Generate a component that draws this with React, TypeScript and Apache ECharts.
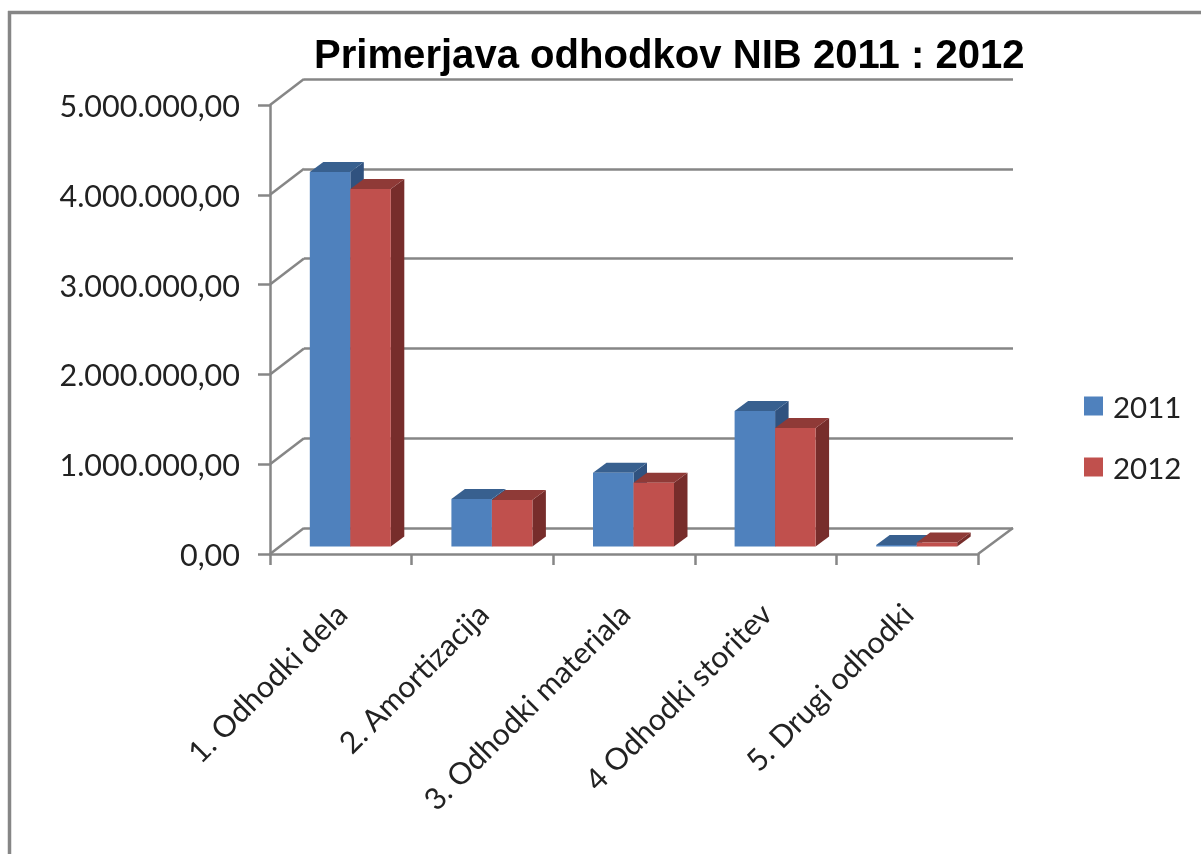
import React, { useEffect, useRef } from "react";
import * as echarts from "echarts";

const titleText = "Primerjava odhodkov NIB 2011 : 2012";
const categories = ["1. Odhodki dela", "2. Amortizacija", "3. Odhodki materiala", "4 Odhodki storitev", "5. Drugi odhodki"];
const values2011 = [4170000, 528000, 820000, 1510000, 16000];
const values2012 = [3980000, 517000, 710000, 1320000, 44000];
const yTicks = [0, 1000000, 2000000, 3000000, 4000000, 5000000];
const yTickLabels = ["0,00", "1.000.000,00", "2.000.000,00", "3.000.000,00", "4.000.000,00", "5.000.000,00"];

const GRAY = "#868686";
const FONT = "Lato";

const WALL_DX = 34;
const WALL_DY = -26;
const BAR_DX = 13.5;
const BAR_DY = -10;
const FLOOR_DX = 9.5;
const FLOOR_DY = -7.5;
const BAR_RATIO = 0.286;
const LINE_W = 2.5;

function bar3d(front: string, top: string, side: string, seriesOffset: number) {
  return (_p: any, api: any) => {
    const i = api.value(0);
    const v = api.value(1);
    const base = api.coord([i, 0]);
    const head = api.coord([i, v]);
    const w = api.size([1, 0])[0] * BAR_RATIO;
    const x0 = base[0] + FLOOR_DX + seriesOffset * w;
    const x1 = x0 + w;
    const yb = base[1] + FLOOR_DY;
    const yt = head[1] + FLOOR_DY;
    const poly = (points: number[][], fill: string) => ({
      type: "polygon",
      shape: { points },
      style: { fill, stroke: null },
    });
    return {
      type: "group",
      children: [
        poly([[x1, yt], [x1 + BAR_DX, yt + BAR_DY], [x1 + BAR_DX, yb + BAR_DY], [x1, yb]], side),
        poly([[x0, yt], [x0 + BAR_DX, yt + BAR_DY], [x1 + BAR_DX, yt + BAR_DY], [x1, yt]], top),
        poly([[x0, yt], [x1, yt], [x1, yb], [x0, yb]], front),
      ],
    };
  };
}

function wallDiagonal(_p: any, api: any) {
  const v = api.value(0);
  const half = api.size([1, 0])[0] / 2;
  const p = api.coord([0, v]);
  const x = p[0] - half;
  return {
    type: "line",
    shape: { x1: x, y1: p[1], x2: x + WALL_DX, y2: p[1] + WALL_DY },
    style: { stroke: GRAY, lineWidth: LINE_W },
  };
}

function floorEdge(_p: any, api: any) {
  const half = api.size([1, 0])[0] / 2;
  const p = api.coord([categories.length - 1, 0]);
  const x = p[0] + half;
  return {
    type: "line",
    shape: { x1: x, y1: p[1], x2: x + WALL_DX + 1, y2: p[1] + WALL_DY },
    style: { stroke: GRAY, lineWidth: LINE_W },
  };
}

export default function App() {
  const ref = useRef<HTMLDivElement>(null);
  useEffect(() => {
    document.body.style.margin = "0";
    const chart = echarts.init(ref.current!, undefined, { renderer: "svg" });
    chart.setOption({
      animation: false,
      backgroundColor: "#ffffff",
      title: {
        text: titleText,
        left: 309,
        top: 29,
        textStyle: { fontFamily: "Liberation Sans", fontWeight: "bold", fontSize: 40.1, color: "#000000" },
      },
      legend: {
        data: ["2011", "2012"],
        orient: "vertical",
        left: 1079,
        top: 386,
        icon: "rect",
        itemWidth: 19,
        itemHeight: 19,
        itemGap: 31,
        textStyle: { fontFamily: FONT, fontSize: 29.5, color: "#222222", padding: [0, 0, 0, 5] },
      },
      grid: [
        { left: 270, top: 105, width: 708, height: 449 },
        { left: 304, top: 79, width: 709, height: 449 },
      ],
      xAxis: [
        {
          type: "category",
          gridIndex: 0,
          data: categories,
          axisLine: { lineStyle: { color: GRAY, width: LINE_W } },
          axisTick: { show: true, length: 11, alignWithLabel: false, lineStyle: { color: GRAY, width: LINE_W } },
          axisLabel: {
            interval: 0,
            rotate: 45,
            margin: 54,
            fontFamily: FONT,
            fontSize: 30.3,
            color: "#222222",
            padding: [0, 0, 6, 0],
          },
        },
        { type: "category", gridIndex: 1, data: categories, show: false },
      ],
      yAxis: [
        {
          type: "value",
          gridIndex: 0,
          min: 0,
          max: 5000000,
          interval: 1000000,
          axisLine: { show: true, lineStyle: { color: GRAY, width: LINE_W } },
          axisTick: { show: true, length: 12, lineStyle: { color: GRAY, width: LINE_W } },
          splitLine: { show: false },
          axisLabel: {
            margin: 30,
            fontFamily: FONT,
            fontSize: 30.5,
            color: "#222222",
            padding: [9, 0, 0, 0],
            formatter: (_v: number, i: number) => yTickLabels[i],
          },
        },
        {
          type: "value",
          gridIndex: 1,
          min: 0,
          max: 5000000,
          interval: 1000000,
          axisLine: { show: false },
          axisTick: { show: false },
          axisLabel: { show: false },
          splitLine: { show: true, lineStyle: { color: GRAY, width: LINE_W } },
        },
      ],
      series: [
        {
          type: "custom",
          name: "wall",
          xAxisIndex: 0,
          yAxisIndex: 0,
          silent: true,
          clip: false,
          z: 1,
          data: yTicks.map((v) => [v]),
          encode: { y: 0 },
          renderItem: wallDiagonal,
        },
        {
          type: "custom",
          name: "floor",
          xAxisIndex: 0,
          yAxisIndex: 0,
          silent: true,
          clip: false,
          z: 1,
          data: [[0]],
          encode: { y: 0 },
          renderItem: floorEdge,
        },
        {
          type: "custom",
          name: "2011",
          xAxisIndex: 0,
          yAxisIndex: 0,
          clip: false,
          z: 3,
          itemStyle: { color: "#4F81BD" },
          encode: { x: 0, y: 1 },
          data: values2011.map((v, i) => [i, v]),
          renderItem: bar3d("#4F81BD", "#38608F", "#30527F", -1),
        },
        {
          type: "custom",
          name: "2012",
          xAxisIndex: 0,
          yAxisIndex: 0,
          clip: false,
          z: 4,
          itemStyle: { color: "#C0504D" },
          encode: { x: 0, y: 1 },
          data: values2012.map((v, i) => [i, v]),
          renderItem: bar3d("#C0504D", "#8F3A37", "#772D2B", 0),
        },
      ],
      graphic: [
        { type: "line", shape: { x1: 8, y1: 12.5, x2: 1201, y2: 12.5 }, style: { stroke: GRAY, lineWidth: 3.5 } },
        { type: "line", shape: { x1: 9.5, y1: 11, x2: 9.5, y2: 854 }, style: { stroke: GRAY, lineWidth: 3.5 } },
      ],
    });
    return () => chart.dispose();
  }, []);
  return (
    <div
      ref={ref}
      style={{ position: "fixed", left: 0, top: 0, width: 1201, height: 854, filter: "blur(0.5px)" }}
    />
  );
}
